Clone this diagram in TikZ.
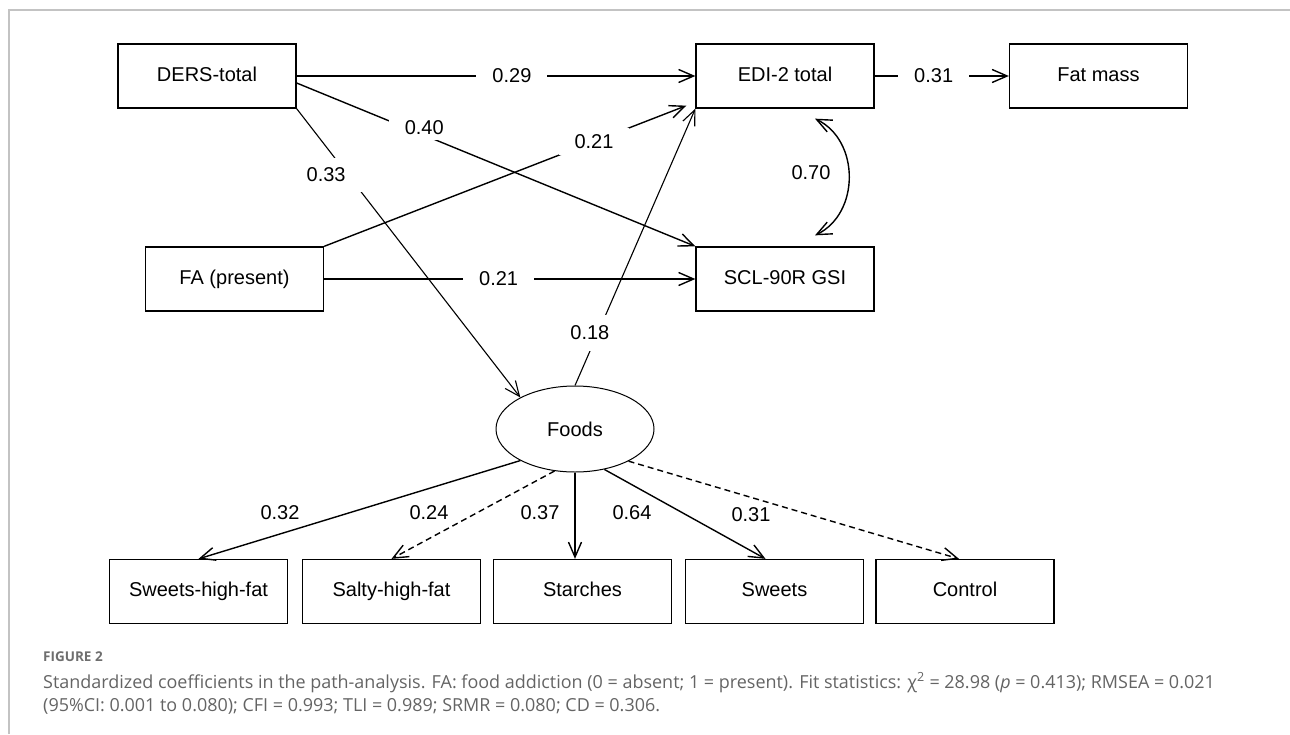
\documentclass[tikz,border=0pt]{standalone}
\usepackage{fontspec}
\setmainfont{Liberation Sans}
\newfontfamily\capfont{Open Sans}
\usetikzlibrary{arrows.meta,shapes.geometric,calc}
\definecolor{capgray}{RGB}{100,100,100}
\definecolor{figgray}{RGB}{110,110,110}
\definecolor{framegray}{RGB}{195,195,195}
\newcommand{\capone}{Standardized coefficients in the path-analysis. FA: food addiction (0 = absent; 1 = present). Fit statistics: χ\textsuperscript{2} = 28.98 (\textit{p} = 0.413); RMSEA = 0.021}
\newlength\capw
\settowidth\capw{\capfont\fontsize{10}{12}\selectfont\capone}
\pgfmathsetmacro\capsize{10*1172/\capw}
\pgfmathsetmacro\capskip{1.2*\capsize}
\begin{document}
\begin{tikzpicture}[x=1pt,y=-1pt,
  font=\fontsize{20}{24}\selectfont,
  box/.style={draw, line width=1.3pt, minimum width=178pt, minimum height=64pt, inner sep=0pt, text height=14.5pt, text depth=4pt},
  conn/.style={line width=1.4pt, -{Straight Barb[length=15pt,width=13pt]}},
  connboth/.style={line width=1.4pt, {Straight Barb[length=15pt,width=13pt]}-{Straight Barb[length=15pt,width=13pt]}},
  thin1/.style={line width=1.1pt},
  dsh/.style={dash pattern=on 6pt off 4pt},
  lbl/.style={fill=white, inner xsep=16pt, inner ysep=3pt},
  free/.style={inner sep=0pt},
  captext/.style={anchor=base west, inner sep=0pt, text=capgray, font=\capfont\fontsize{\capsize}{\capskip}\selectfont}
]
\useasboundingbox (0,0) rectangle (1290,734);
\draw[framegray, line width=1.2pt] (9,734) -- (9,10) -- (1290,10);

% top row
\node[box] (ders) at (207,76) {DERS-total};
\node[box] (edi) at (785,76) {EDI-2 total};
\node[box] (fat) at (1098.5,76) {Fat mass};
% middle row
\node[box] (fa) at (234.5,279) {FA (present)};
\node[box] (scl) at (785,279) {SCL-90R GSI};
% latent
\node[ellipse, draw, line width=1pt, minimum width=158pt, minimum height=86pt, inner sep=0pt] (foods) at (575,429) {Foods};
% bottom row
\node[box] (shf) at (198.5,591.5) {Sweets-high-fat};
\node[box] (slhf) at (391.5,591.5) {Salty-high-fat};
\node[box] (sta) at (582.5,591.5) {Starches};
\node[box] (swe) at (774.5,591.5) {Sweets};
\node[box] (con) at (965,591.5) {Control};

% structural paths
\draw[conn] (ders.east) -- node[lbl,pos=0.54]{0.29} (edi.west);
\draw[conn] ([yshift=-7pt]ders.east) -- node[lbl,pos=0.2975,inner ysep=5pt,xshift=9pt,yshift=4pt]{0.40} (scl.north west);
\draw[conn,thin1] (ders.south east) -- node[lbl,pos=0.23,inner ysep=10pt,xshift=-22pt]{0.33} (foods.150);
\draw[conn] (fa.north east) -- node[lbl,pos=0.745,inner ysep=6pt]{0.21} ([shift={(-9pt,3pt)}]edi.south west);
\draw[conn] (fa.east) -- node[lbl,pos=0.47]{0.21} (scl.west);
\draw[conn,thin1] (foods.north) -- node[lbl,pos=0.19,inner ysep=11pt,xshift=-8pt]{0.18} (edi.south west);
\draw[conn] (edi.east) -- node[lbl,pos=0.44]{0.31} (fat.west);
\draw[connboth] ([shift={(30pt,-10pt)}]edi.south) .. controls +(45,22) and +(45,-22) .. ([shift={(30pt,11pt)}]scl.north);
\node[free] (r70) at (811,173) {0.70};

% measurement paths
\draw[conn] (foods.210) -- (shf.north);
\draw[conn,dsh] (foods.244) -- (slhf.north);
\draw[conn] (foods.south) -- (foods.south |- sta.north);
\draw[conn] (foods.306) -- ([xshift=-9pt]swe.north);
\draw[conn,dsh] (foods.329) -- ([xshift=-6pt]con.north);
\node[free] (l32) at (280,513) {0.32};
\node[free] (l24) at (429,513) {0.24};
\node[free] (l37) at (540,513) {0.37};
\node[free] (l64) at (632,513) {0.64};
\node[free] (l31) at (751,515) {0.31};

% caption
\node[captext, text=figgray, font=\capfont\bfseries\fontsize{13.5}{16}\selectfont] (fig) at (43,661) {FIGURE 2};
\node[captext] (cap1) at (43,688) {\capone};
\node[captext] (cap2) at (43,711) {(95\%CI: 0.001 to 0.080); CFI = 0.993; TLI = 0.989; SRMR = 0.080; CD = 0.306.};
\end{tikzpicture}
\end{document}
